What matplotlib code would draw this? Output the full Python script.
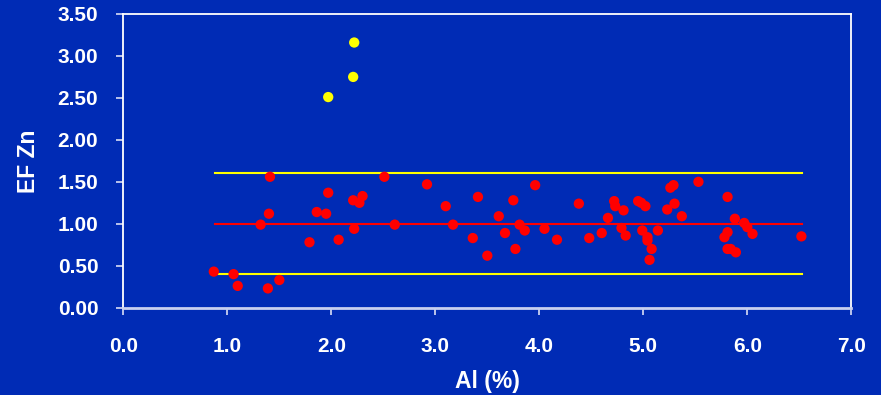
import matplotlib
matplotlib.use("Agg")
import matplotlib.pyplot as plt

# data
al_red = [0.87, 1.06, 1.10, 1.39, 1.50, 1.41, 1.40, 1.32, 1.79, 1.97, 1.86, 1.95,
          2.07, 2.21, 2.27, 2.30, 2.22, 2.51, 2.61, 2.92,
          3.10, 3.17, 3.36, 3.41, 3.50, 3.61, 3.67, 3.75, 3.77, 3.81, 3.86, 3.96,
          4.05, 4.17, 4.38, 4.48, 4.60, 4.66, 4.72, 4.73, 4.81, 4.79, 4.83,
          4.95, 4.98, 5.02, 4.99, 5.04, 5.04, 5.08, 5.06, 5.14,
          5.23, 5.26, 5.29, 5.30, 5.37, 5.53, 5.81, 5.88, 5.81, 5.78, 5.81, 5.84,
          5.89, 5.97, 6.00, 6.05, 6.52]
ef_red = [0.43, 0.40, 0.26, 0.23, 0.33, 1.56, 1.12, 0.99, 0.78, 1.37, 1.14, 1.12,
          0.81, 1.28, 1.25, 1.33, 0.94, 1.56, 0.99, 1.47,
          1.21, 0.99, 0.83, 1.32, 0.62, 1.09, 0.89, 1.28, 0.70, 0.99, 0.92, 1.46,
          0.94, 0.81, 1.24, 0.83, 0.89, 1.07, 1.27, 1.21, 1.16, 0.95, 0.86,
          1.27, 1.25, 1.21, 0.92, 0.84, 0.80, 0.70, 0.57, 0.92,
          1.17, 1.43, 1.46, 1.24, 1.09, 1.50, 1.32, 1.06, 0.90, 0.84, 0.70, 0.70,
          0.66, 1.01, 0.96, 0.88, 0.85]

al_yellow = [1.97, 2.21, 2.22]
ef_yellow = [2.51, 2.75, 3.16]

line_x = [0.88, 6.53]
mean_level = 1.0
upper_level = 1.6
lower_level = 0.4

bg = "#002bb5"

fig = plt.figure(figsize=(8.81, 3.95), dpi=100, facecolor=bg)
ax = fig.add_axes([0.140, 0.221, 0.8263, 0.7436], facecolor=bg)

ax.plot(line_x, [upper_level, upper_level], color="#ffff00", lw=1.5, zorder=2)
ax.plot(line_x, [mean_level, mean_level], color="#ff0000", lw=1.5, zorder=2)
ax.plot(line_x, [lower_level, lower_level], color="#ffff00", lw=1.5, zorder=2)

ax.scatter(al_red, ef_red, s=55, color="#ff0000", edgecolors="none", zorder=3)
ax.scatter(al_yellow, ef_yellow, s=55, color="#ffff00", edgecolors="none", zorder=3)

ax.set_xlim(0, 7)
ax.set_ylim(0, 3.5)
ax.set_xticks([0, 1, 2, 3, 4, 5, 6, 7])
ax.set_xticklabels([f"{v:.1f}" for v in range(8)])
ax.set_yticks([0, 0.5, 1.0, 1.5, 2.0, 2.5, 3.0, 3.5])
ax.set_yticklabels([f"{v:.2f}" for v in [0, 0.5, 1.0, 1.5, 2.0, 2.5, 3.0, 3.5]])

for s in ["top", "right", "left"]:
    ax.spines[s].set_color("white")
    ax.spines[s].set_linewidth(1.3)
ax.spines["bottom"].set_color("#c8d0f0")
ax.spines["bottom"].set_linewidth(2)

ax.tick_params(axis="y", colors="#c8d0f0", length=5, width=1.3, pad=13,
               labelcolor="white", labelsize=15)
ax.tick_params(axis="x", colors="#c8d0f0", length=5, width=1.3, pad=16,
               labelcolor="white", labelsize=15)
for lab in ax.get_xticklabels() + ax.get_yticklabels():
    lab.set_fontweight("bold")
    lab.set_fontfamily(["Liberation Sans", "DejaVu Sans"])

ax.set_xlabel("Al (%)", color="white", fontsize=16.5, fontweight="bold",
              family=["Liberation Sans", "DejaVu Sans"], labelpad=10)
ax.set_ylabel("EF Zn", color="white", fontsize=16.5, fontweight="bold",
              family=["Liberation Sans", "DejaVu Sans"], labelpad=13)

fig.savefig("out.png", dpi=100, facecolor=bg)
